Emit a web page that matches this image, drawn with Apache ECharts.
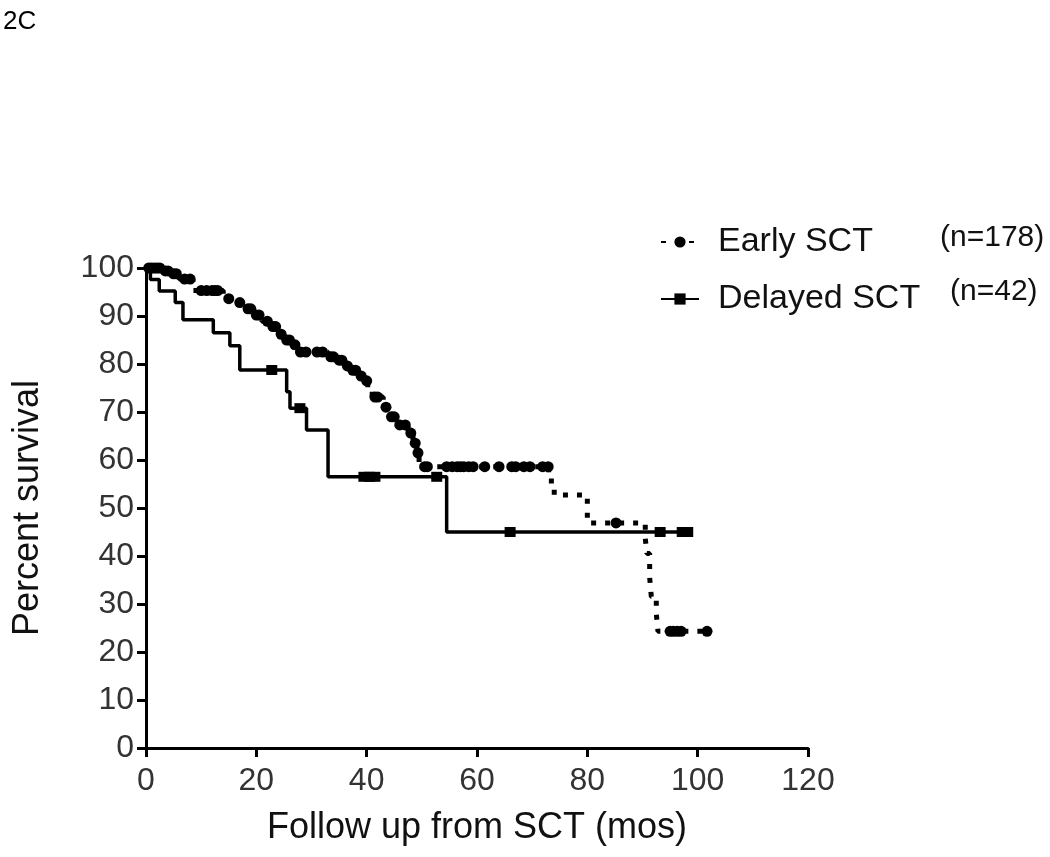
<!DOCTYPE html>
<html>
<head>
<meta charset="utf-8">
<script src="https://cdn.jsdelivr.net/npm/echarts@6/dist/echarts.min.js"></script>
<style>
html,body{margin:0;padding:0;background:#fff;}
#chart{width:1050px;height:857px;}
</style>
</head>
<body>
<div id="chart"></div>
<script>
// ---- Data ----
const xTicks = [0, 20, 40, 60, 80, 100, 120];
const yTicks = [0, 10, 20, 30, 40, 50, 60, 70, 80, 90, 100];

// Early SCT (n=178): Kaplan-Meier step times (months) and survival (%)
const earlyTimes = [0, 3, 4.5, 6, 8.5, 14, 16, 18, 19.5, 21, 22.5, 24, 25, 26.5, 28, 33, 34.5, 36, 37, 38.5, 39.5, 40.2, 41, 43, 44, 45.7, 47.5, 48.4, 49.1, 49.5, 50, 73, 74, 80, 90.5, 90.8, 91.3, 91.6, 92.5, 92.8, 101.7];
const earlySurv  = [100, 99.4, 98.8, 97.7, 95.3, 93.6, 92.8, 91.5, 90.2, 88.9, 87.8, 86.2, 85, 84, 82.5, 81.5, 80.8, 79.6, 78.7, 77.5, 76.5, 74.5, 73.1, 71, 69, 67.3, 65.6, 63.5, 61.5, 59.4, 58.6, 55.6, 52.7, 46.9, 43.7, 40.5, 35.5, 31.5, 28, 24.3, 24.3];
// Early SCT censored observations (months)
const earlyCensor = [0.5, 1, 1.5, 2, 2.5, 3.5, 4, 5, 5.5, 7, 8, 10, 11, 12, 12.5, 13, 15, 17, 18.5, 19, 20, 20.5, 22, 23, 23.5, 24.5, 25.5, 26, 27, 28, 29, 31, 32, 33.5, 34, 35, 35.5, 36.5, 37.5, 38, 39, 40, 41.5, 42, 43.5, 44.5, 45, 46, 47, 48, 48.8, 49.3, 50.5, 51, 54.5, 55.5, 56.4, 57, 57.6, 58.5, 59.3, 61.4, 64, 66.3, 67, 68.5, 69.6, 71.9, 72.9, 85.2, 95, 95.6, 96.3, 97, 101.7];

// Delayed SCT (n=42)
const delayedTimes = [0, 0.8, 2.4, 5.3, 6.7, 12.2, 15.2, 17, 25.5, 26.1, 29.1, 33, 54.5, 99];
const delayedSurv  = [100, 97.6, 95.2, 92.8, 89.2, 86.5, 83.8, 78.75, 74.2, 70.8, 66.25, 56.5, 45, 45];
const delayedCensor = [22.8, 27.9, 39.5, 40.5, 41.5, 52.7, 66, 93.2, 97.2, 98.2];

// ---- helpers ----
function pairs(ts, ss) { return ts.map((t, i) => [t, ss[i]]); }
function survAt(ts, ss, t) {
  let v = ss[0];
  for (let i = 0; i < ts.length; i++) { if (ts[i] <= t) v = ss[i]; }
  return v;
}
function censorPts(cs, ts, ss) { return cs.map(t => [t, survAt(ts, ss, t)]); }

const FONT = 'Liberation Sans, Arial, sans-serif';
const chart = echarts.init(document.getElementById('chart'));
chart.setOption({
  animation: false,
  backgroundColor: '#fff',
  title: {
    text: '2C', left: -2, top: 4,
    textStyle: { fontFamily: FONT, fontSize: 26, fontWeight: 'normal', color: '#000' }
  },
  grid: { left: 146, right: 242, top: 268, bottom: 109 },
  legend: {
    orient: 'vertical', left: 655, top: 220, itemGap: 23,
    itemWidth: 38, itemHeight: 14,
    textStyle: { fontFamily: FONT, fontSize: 34, color: '#111', padding: [0, 0, 0, 14] },
    data: ['Early SCT', 'Delayed SCT']
  },
  xAxis: {
    type: 'value', min: 0, max: 120, interval: 20,
    name: 'Follow up from SCT (mos)', nameLocation: 'middle', nameGap: 62,
    nameTextStyle: { fontFamily: FONT, fontSize: 36, color: '#111' },
    axisLine: { lineStyle: { color: '#000', width: 3 } },
    axisTick: { length: 9, lineStyle: { color: '#000', width: 3 } },
    axisLabel: { fontFamily: FONT, fontSize: 32, color: '#333', margin: 17 },
    splitLine: { show: false }
  },
  yAxis: {
    type: 'value', min: 0, max: 100, interval: 10,
    name: 'Percent survival', nameLocation: 'middle', nameGap: 100,
    nameTextStyle: { fontFamily: FONT, fontSize: 36, color: '#111' },
    axisLine: { show: true, lineStyle: { color: '#000', width: 3 } },
    axisTick: { show: true, length: 9, lineStyle: { color: '#000', width: 3 } },
    axisLabel: { fontFamily: FONT, fontSize: 32, color: '#333', margin: 12 },
    splitLine: { show: false }
  },
  graphic: [
    { type: 'text', left: 940, top: 223, style: { text: '(n=178)', font: '30px ' + FONT, fill: '#111' } },
    { type: 'text', left: 950, top: 277, style: { text: '(n=42)', font: '30px ' + FONT, fill: '#111' } }
  ],
  series: [
    {
      name: 'Early SCT', type: 'line', step: 'end',
      data: pairs(earlyTimes, earlySurv),
      symbol: 'circle', symbolSize: 9, showSymbol: false,
      itemStyle: { color: '#000' },
      lineStyle: { color: '#000', width: 5, type: [5, 9] },
      z: 2
    },
    {
      name: 'Early SCT', type: 'scatter',
      data: censorPts(earlyCensor, earlyTimes, earlySurv),
      symbol: 'circle', symbolSize: 11,
      itemStyle: { color: '#000', opacity: 1 }, z: 3
    },
    {
      name: 'Delayed SCT', type: 'line', step: 'end',
      data: pairs(delayedTimes, delayedSurv),
      symbol: 'rect', symbolSize: 9, showSymbol: false,
      itemStyle: { color: '#000' },
      lineStyle: { color: '#000', width: 3.5 },
      z: 2
    },
    {
      name: 'Delayed SCT', type: 'scatter',
      data: censorPts(delayedCensor, delayedTimes, delayedSurv),
      symbol: 'rect', symbolSize: [11, 10],
      itemStyle: { color: '#000', opacity: 1 }, z: 3
    }
  ]
});
</script>
</body>
</html>
